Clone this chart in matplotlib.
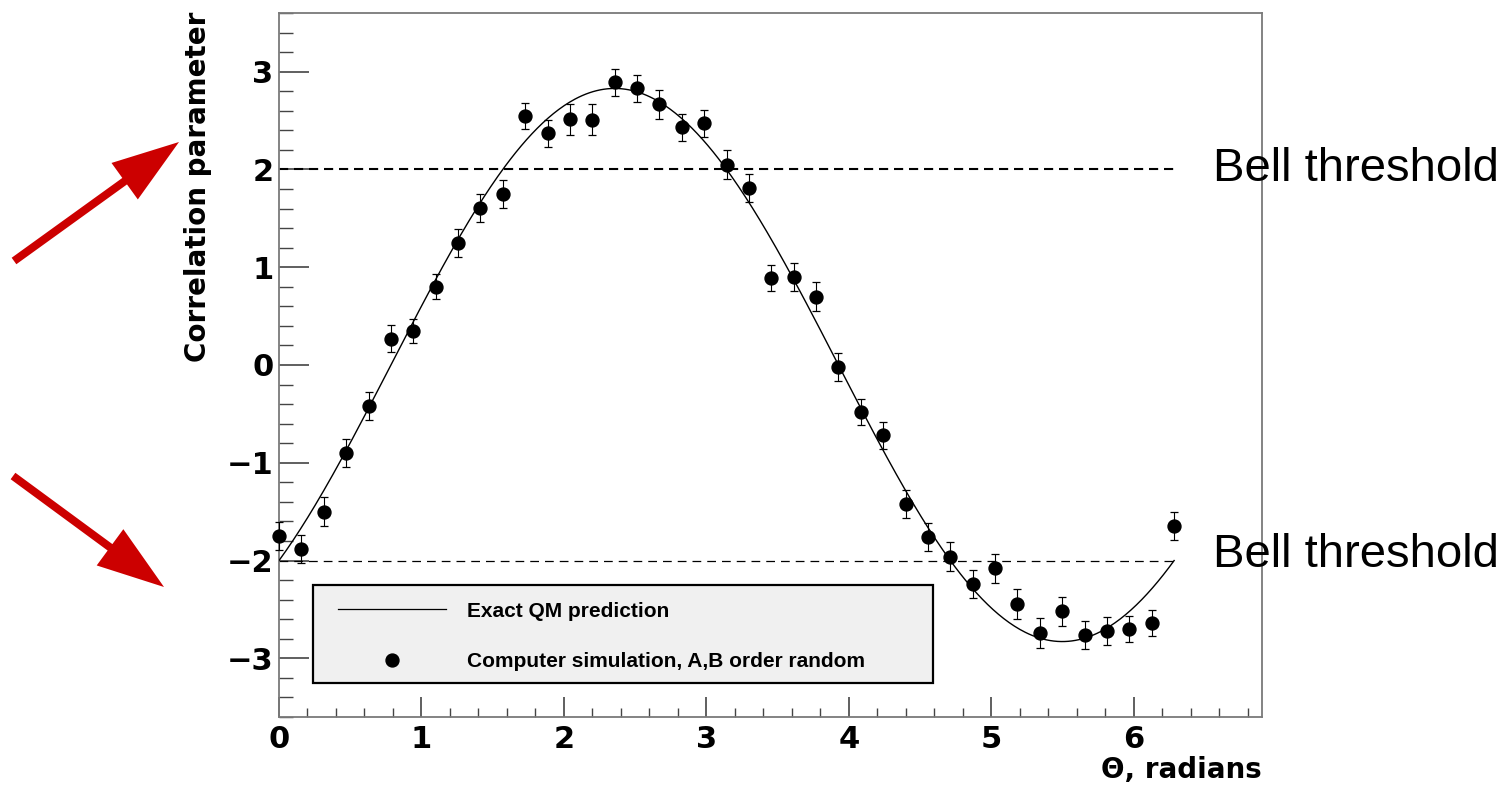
import numpy as np
import matplotlib
matplotlib.use("Agg")
import matplotlib.pyplot as plt
from matplotlib.patches import FancyArrow, Rectangle
from matplotlib.ticker import MultipleLocator

plt.rcParams['font.family'] = ['DejaVu Sans']
plt.rcParams['font.weight'] = 'bold'

# 41 analyser angles, step pi/20
theta = np.arange(41) * np.pi / 20
corr = [-1.75, -1.88, -1.50, -0.90, -0.42, 0.27, 0.35, 0.80, 1.25, 1.61,
        1.75, 2.55, 2.37, 2.515, 2.51, 2.89, 2.83, 2.665, 2.43, 2.47,
        2.05, 1.81, 0.89, 0.90, 0.70, -0.02, -0.48, -0.72, -1.42, -1.76,
        -1.96, -2.24, -2.08, -2.44, -2.74, -2.52, -2.76, -2.72, -2.70, -2.64,
        -1.645]
err = [0.14, 0.14, 0.145, 0.14, 0.14, 0.14, 0.125, 0.13, 0.145, 0.143,
       0.14, 0.134, 0.14, 0.158, 0.156, 0.141, 0.141, 0.145, 0.14, 0.138,
       0.15, 0.14, 0.133, 0.145, 0.15, 0.14, 0.13, 0.136, 0.146, 0.143,
       0.145, 0.14, 0.145, 0.153, 0.15, 0.15, 0.143, 0.141, 0.138, 0.136,
       0.143]
bell = [2, -2]
legend_labels = ["Exact QM prediction", "Computer simulation, A,B order random"]


def qm(t):
    # exact quantum prediction of the CHSH combination
    return -2 * np.sqrt(2) * np.cos(t + np.pi / 4)


fig = plt.figure(figsize=(15.05, 7.88), dpi=100)
ax = fig.add_axes([279 / 1505, 71 / 788, 983 / 1505, 704 / 788])

tt = np.linspace(0, 2 * np.pi, 500)
ax.plot(tt, qm(tt), color='black', lw=1.0, zorder=3)
ax.errorbar(theta, corr, yerr=err, fmt='o', color='black', ms=9.3,
            elinewidth=0.8, capsize=3.2, capthick=0.9, zorder=4, clip_on=False)

ax.hlines(bell[0], 0, 2 * np.pi, colors='black', lw=1.5,
          linestyles=(0, (4.4, 2.8)), zorder=2)
ax.hlines(bell[1], 0, 2 * np.pi, colors='black', lw=0.9,
          linestyles=(0, (7.0, 4.8)), zorder=2)

ax.set_xlim(0, 6.9)
ax.set_ylim(-3.6, 3.6)
ax.xaxis.set_major_locator(MultipleLocator(1))
ax.xaxis.set_minor_locator(MultipleLocator(0.2))
ax.yaxis.set_major_locator(MultipleLocator(1))
ax.yaxis.set_minor_locator(MultipleLocator(0.2))

ax.tick_params(axis='both', which='both', direction='in', top=False, right=False,
               color='#444444', labelsize=22)
ax.tick_params(axis='y', which='major', length=21.6, width=1.2, pad=4)
ax.tick_params(axis='y', which='minor', length=10, width=1.0)
ax.tick_params(axis='x', which='major', length=14.4, width=1.2, pad=6)
ax.tick_params(axis='x', which='minor', length=6.5, width=1.0)
for sp in ax.spines.values():
    sp.set_color('#7a7a7a')
    sp.set_linewidth(1.3)

ax.set_ylabel("Correlation parameter", fontsize=20, fontweight='bold')
ax.yaxis.set_label_coords(-0.068, 0.753)
ax.set_xlabel("\u0398, radians", fontsize=20, fontweight='bold', ha='right')
ax.xaxis.set_label_coords(1.0, -0.056)

# overlay in pixel coordinates for legend, arrows and notes
ov = fig.add_axes([0, 0, 1, 1], zorder=10)
ov.set_xlim(0, 1505)
ov.set_ylim(788, 0)
ov.axis('off')
ov.patch.set_alpha(0)

ov.add_patch(Rectangle((313, 585), 620, 98, facecolor='#f0f0f0',
                       edgecolor='black', lw=1.6))
ov.plot([338, 446], [609, 609], color='black', lw=0.9)
ov.plot([392], [660], 'o', color='black', ms=9.3)
ov.text(467, 616.7, legend_labels[0], fontsize=15, fontweight='bold',
        family=['Liberation Sans', 'DejaVu Sans'], va='baseline')
ov.text(467, 666.7, legend_labels[1], fontsize=15, fontweight='bold',
        family=['Liberation Sans', 'DejaVu Sans'], va='baseline')

for ybase in [181, 567]:
    ov.text(1213, ybase, "Bell threshold", fontsize=34, fontweight='normal',
            family=['Liberation Sans', 'DejaVu Sans'], va='baseline')

arrows = [((14, 261), (179, 142)), ((13, 476), (164, 587))]
for (x0, y0), (x1, y1) in arrows:
    ov.add_patch(FancyArrow(x0, y0, x1 - x0, y1 - y0, width=8, head_width=45,
                            head_length=67, length_includes_head=True,
                            color='#cc0000', lw=0))

fig.savefig("out.png", dpi=100)
